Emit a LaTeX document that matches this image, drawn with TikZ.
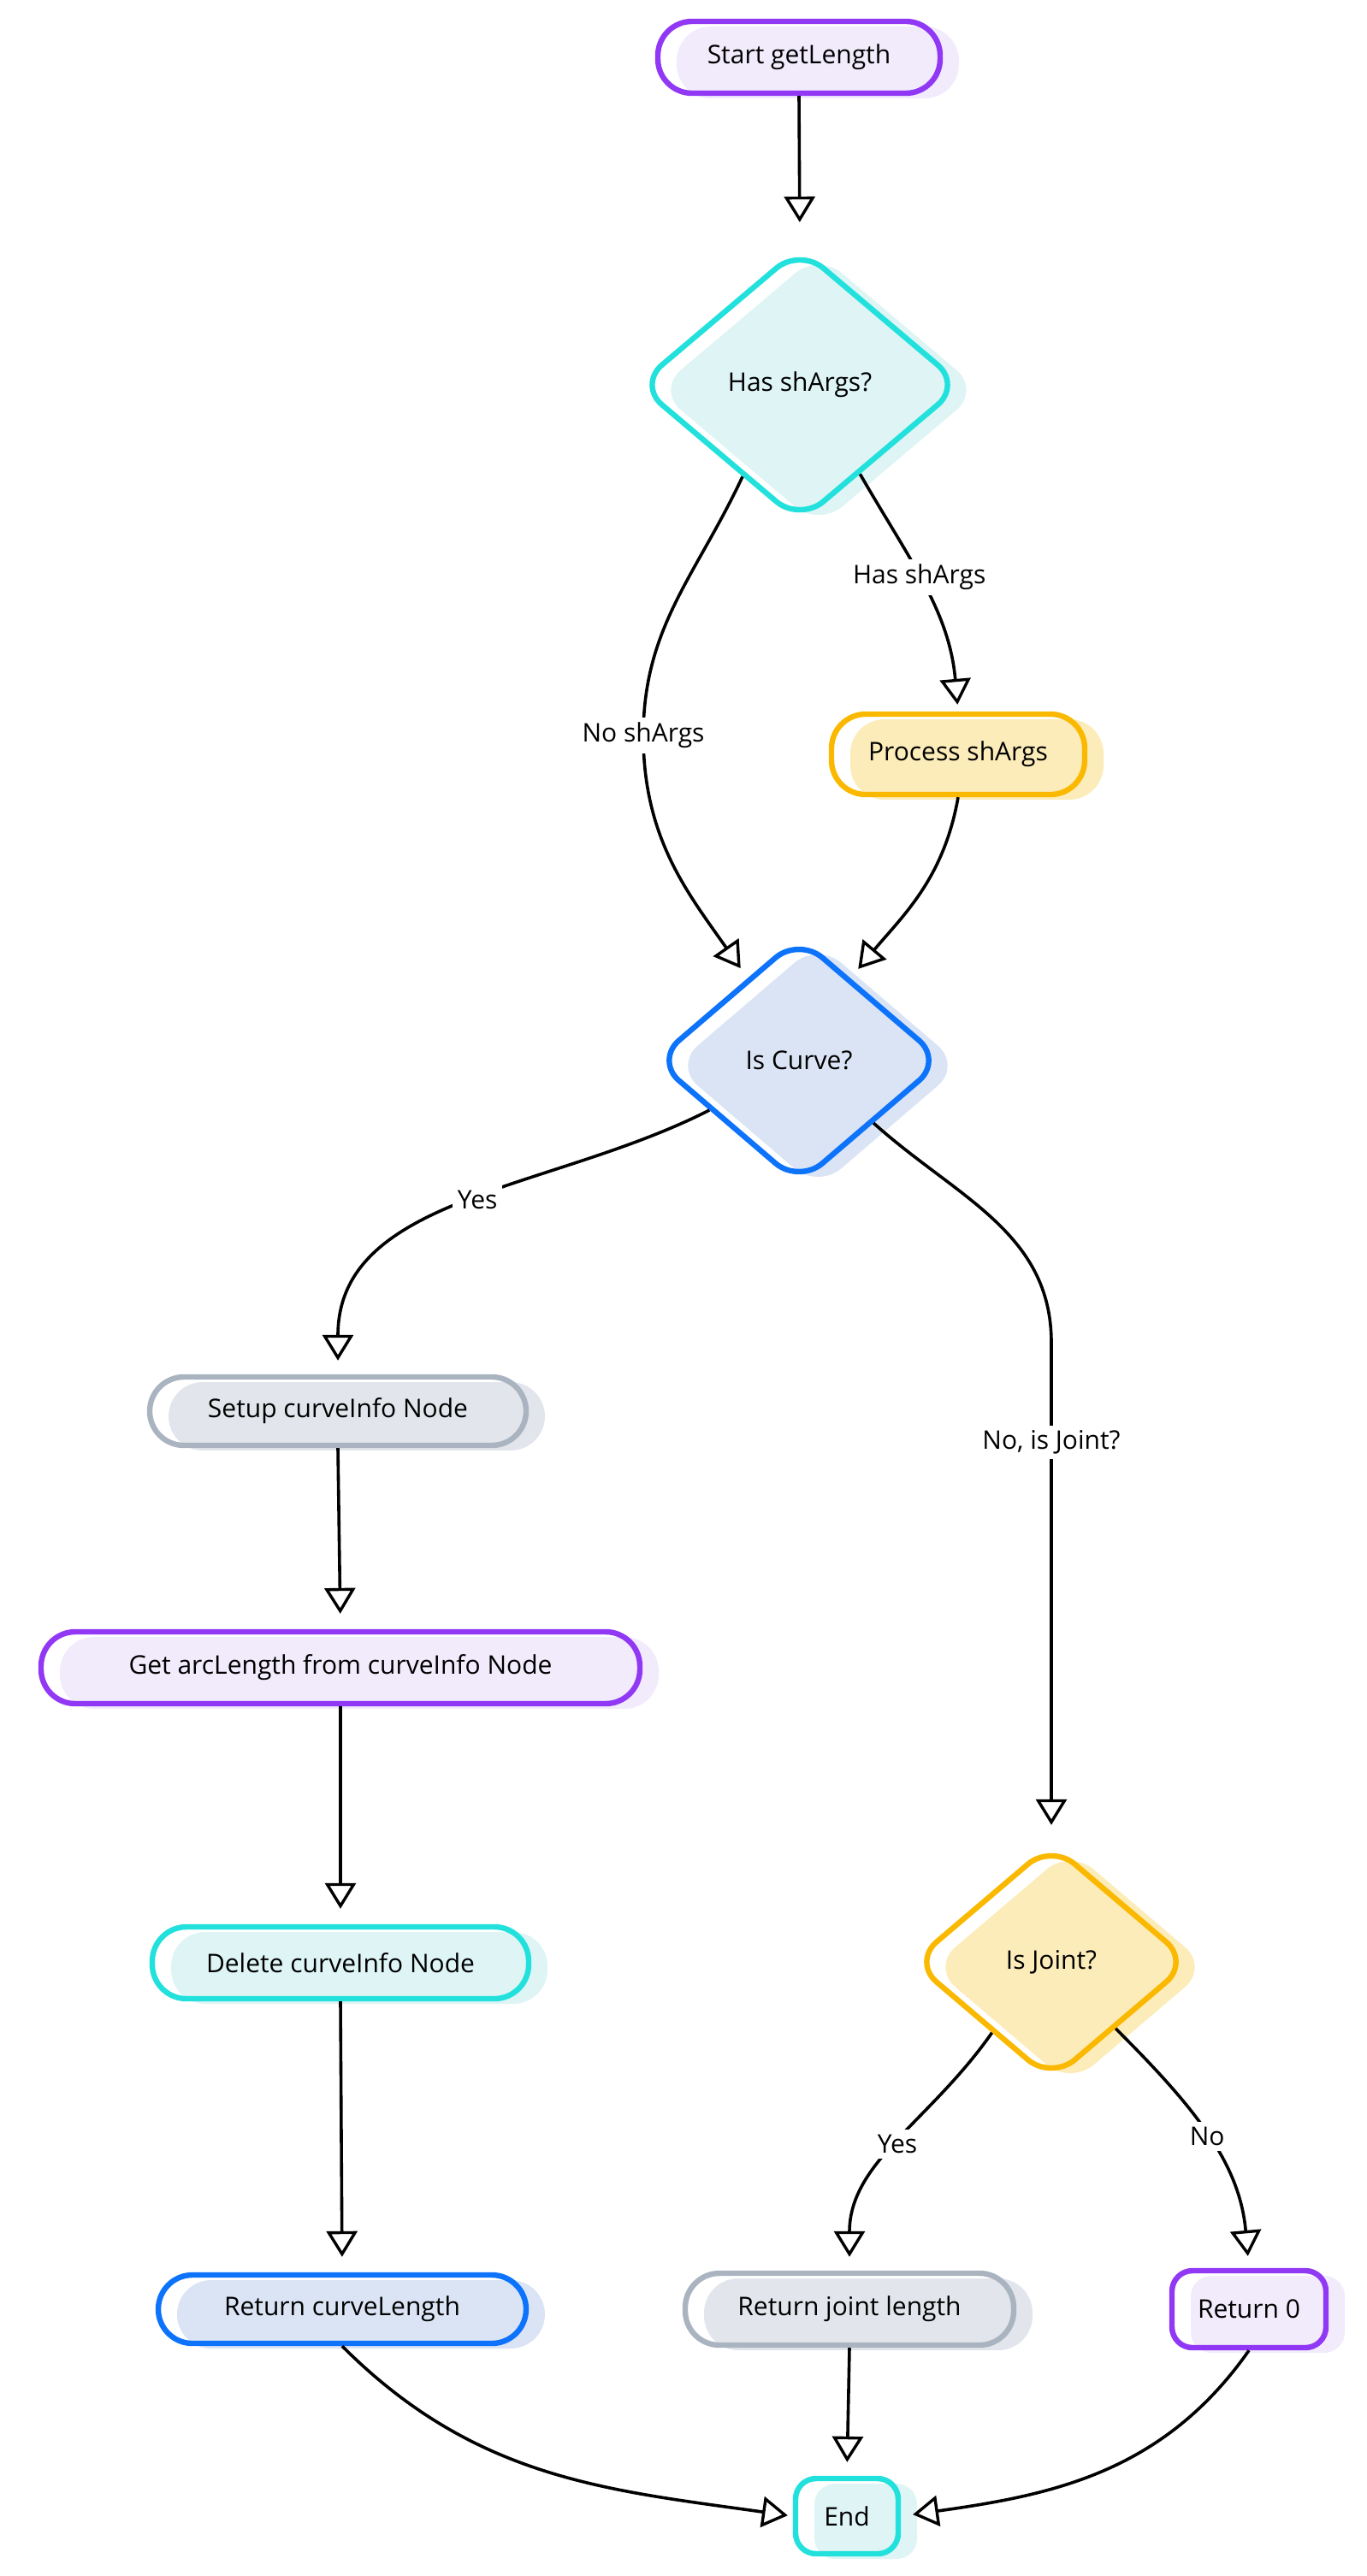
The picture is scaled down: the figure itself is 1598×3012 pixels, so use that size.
\documentclass[tikz,border=0pt]{standalone}
\usepackage{fontspec}
\setmainfont{Open Sans}
\usepackage{tikz}
\usetikzlibrary{shapes.geometric, arrows.meta, positioning}
\definecolor{SketchPurple}{RGB}{145,56,245}
\definecolor{SketchPurpleFill}{RGB}{241,235,252}
\definecolor{SketchCyan}{RGB}{34,225,220}
\definecolor{SketchCyanFill}{RGB}{222,244,245}
\definecolor{SketchYellow}{RGB}{250,185,0}
\definecolor{SketchYellowFill}{RGB}{252,236,185}
\definecolor{SketchBlue}{RGB}{12,115,250}
\definecolor{SketchBlueFill}{RGB}{218,228,245}
\definecolor{SketchGray}{RGB}{170,180,192}
\definecolor{SketchGrayFill}{RGB}{226,230,236}
\tikzset{
    flowbox/.style={
        rectangle, rounded corners=20pt, minimum height=42pt, inner sep=0pt,
        line width=3.2pt, font=\fontsize{15}{18}\selectfont
    },
    decision/.style={
        diamond, rounded corners=18pt, inner sep=0pt,
        line width=3.2pt, font=\fontsize{15}{18}\selectfont
    },
    purplebox/.style={
        draw=SketchPurple, preaction={fill=SketchPurpleFill, transform canvas={shift={(11pt,-3pt)}}}
    },
    cyanbox/.style={
        draw=SketchCyan, preaction={fill=SketchCyanFill, transform canvas={shift={(11pt,-3pt)}}}
    },
    yellowbox/.style={
        draw=SketchYellow, preaction={fill=SketchYellowFill, transform canvas={shift={(11pt,-3pt)}}}
    },
    bluebox/.style={
        draw=SketchBlue, preaction={fill=SketchBlueFill, transform canvas={shift={(11pt,-3pt)}}}
    },
    graybox/.style={
        draw=SketchGray, preaction={fill=SketchGrayFill, transform canvas={shift={(11pt,-3pt)}}}
    },
    flow/.style={
        -{Triangle[open, length=15pt, width=18pt, line width=1.7pt]},
        line width=1.8pt, black, shorten >=9pt
    },
    lbl/.style={
        fill=white, inner sep=3pt, font=\fontsize{15}{18}\selectfont
    }
}

\begin{document}
\begin{tikzpicture}[x=0.5pt, y=-0.5pt]
    \useasboundingbox (0,0) rectangle (1598,3012);

    % --- 1. NODES ---
    \node[flowbox, purplebox, minimum width=165pt] (start) at (934,67) {Start getLength};
    \node[decision, cyanbox, minimum width=190pt, minimum height=161pt] (hasargs) at (935,450) {Has shArgs?};
    \node[flowbox, yellowbox, minimum width=148pt, minimum height=47pt] (procargs) at (1120,882) {Process shArgs};
    \node[decision, bluebox, minimum width=169pt, minimum height=145pt] (iscurve) at (934,1240) {Is Curve?};

    % left branch: curve
    \node[flowbox, graybox, minimum width=220pt, minimum height=40pt] (setup) at (395,1650) {Setup curveInfo Node};
    \node[flowbox, purplebox, minimum width=350pt] (getarc) at (398,1950) {Get arcLength from curveInfo Node};
    \node[flowbox, cyanbox, minimum width=220pt] (delinfo) at (398,2295) {Delete curveInfo Node};
    \node[flowbox, bluebox, minimum width=215pt, minimum height=40pt] (retcurve) at (400,2700) {Return curveLength};

    % right branch: joint
    \node[decision, yellowbox, minimum width=163pt, minimum height=139pt] (isjoint) at (1229,2294) {Is Joint?};
    \node[flowbox, graybox, minimum width=192pt] (retjoint) at (993,2700) {Return joint length};
    \node[flowbox, purplebox, rounded corners=12pt, minimum width=90pt, minimum height=45pt] (retzero) at (1460,2700) {Return 0};
    \node[flowbox, cyanbox, rounded corners=12pt, minimum width=60pt, minimum height=44pt] (end) at (990,2942) {End};

    % bend points
    \coordinate (nocurve) at (752,860);
    \coordinate (bendjoint) at (1229,1570);

    % --- 2. CONNECTORS ---
    \draw[flow, shorten >=13pt] (start.south) -- (hasargs.north);
    \draw[flow, shorten >=7pt] (hasargs.-122) to[out=-115, in=90] (nocurve) node[lbl] {No shArgs}
        to[out=-90, in=125] (iscurve.122);
    \draw[flow, shorten >=4pt] (hasargs.-56) to[out=-60, in=95] node[lbl, pos=0.45] {Has shArgs} (procargs.north);
    \draw[flow, shorten >=7pt] (procargs.south) to[out=-100, in=50] (iscurve.58);
    \draw[flow, shorten >=8pt] (iscurve.209) to[out=-153, in=90] node[lbl, pos=0.47] {Yes} (setup.north);
    \draw[flow, shorten >=9pt] (iscurve.-40) to[out=-42, in=90] (bendjoint)
        -- node[lbl, pos=0.2] {No, is Joint?} (isjoint.north);

    \draw[flow] (setup.south) -- (getarc.north);
    \draw[flow] (getarc.south) -- (delinfo.north);
    \draw[flow] (delinfo.south) -- (retcurve.north);

    \draw[flow, shorten >=8pt] (isjoint.-130) to[out=-125, in=90] node[lbl] {Yes} (retjoint.north);
    \draw[flow, shorten >=7pt] (isjoint.-46) to[out=-45, in=95] node[lbl] {No} (retzero.north);

    % --- 3. TO END ---
    \draw[flow, shorten >=3pt] (retcurve.south) to[out=-45, in=172] (end.west);
    \draw[flow, shorten >=8pt] (retjoint.south) -- (end.north);
    \draw[flow, shorten >=7pt] (retzero.south) to[out=-125, in=8] (end.east);

\end{tikzpicture}
\end{document}
